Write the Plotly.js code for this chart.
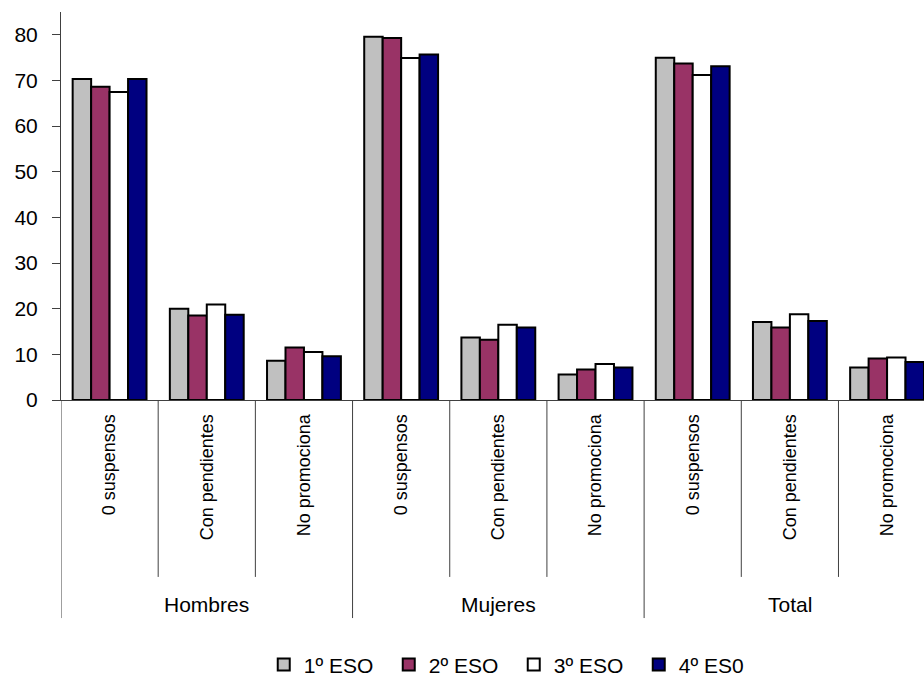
<!DOCTYPE html>
<html>
<head>
<meta charset="utf-8">
<script src="https://cdn.plot.ly/plotly-3.0.1.min.js"></script>
<style>html,body{margin:0;padding:0;background:#fff;}#chart{width:924px;height:686px;}</style>
</head>
<body>
<div id="chart"></div>
<script>
const groups = ["Hombres", "Mujeres", "Total"];
const categories = ["0 suspensos", "Con pendientes", "No promociona"];
const seriesNames = ["1º ESO", "2º ESO", "3º ESO", "4º ES0"];
const colors = ["#C0C0C0", "#993366", "#FFFFFF", "#000080"];

// values per series, ordered Hombres(0 susp, Con pend, No prom), Mujeres(...), Total(...)
const eso1 = [70.3, 20.0, 8.6, 79.6, 13.7, 5.6, 75.0, 17.1, 7.1];
const eso2 = [68.6, 18.5, 11.5, 79.3, 13.2, 6.7, 73.7, 15.9, 9.1];
const eso3 = [67.5, 20.9, 10.5, 74.9, 16.5, 7.9, 71.2, 18.8, 9.3];
const eso4 = [70.3, 18.7, 9.6, 75.7, 15.9, 7.1, 73.1, 17.3, 8.3];
const seriesValues = [eso1, eso2, eso3, eso4];

const xIdx = [];
const tickText = [];
groups.forEach((g, gi) => categories.forEach((c, ci) => {
  xIdx.push(gi * categories.length + ci);
  tickText.push(c);
}));

const traces = seriesNames.map((n, i) => ({
  type: 'bar',
  name: n,
  x: xIdx,
  y: seriesValues[i],
  marker: {color: colors[i], line: {color: '#000000', width: 2}},
  hoverinfo: 'x+y+name'
}));

const shapes = [];
const annotations = [];
const nC = categories.length;
for (let k = 0; k < xIdx.length; k++) {
  const isGroup = k % nC === 0;
  shapes.push({
    type: 'line', xref: 'x', yref: 'paper',
    x0: k - 0.5, x1: k - 0.5, y0: 0, y1: isGroup ? -0.562 : -0.456,
    line: {color: '#404040', width: 1}
  });
}
groups.forEach((g, gi) => {
  annotations.push({
    text: g, xref: 'x', yref: 'paper', x: gi * nC + (nC - 1) / 2, y: -0.526,
    showarrow: false, font: {family: 'Liberation Sans, Arial', size: 21, color: '#000'},
    xanchor: 'center', yanchor: 'middle'
  });
});

const layout = {
  width: 924, height: 686,
  margin: {l: 61, r: 0, t: 12, b: 286},
  paper_bgcolor: '#ffffff', plot_bgcolor: '#ffffff',
  font: {family: 'Liberation Sans, Arial', size: 17, color: '#000'},
  barmode: 'group', bargap: 0.24, bargroupgap: 0,
  showlegend: true,
  legend: {
    orientation: 'h', xref: 'container', yref: 'container',
    x: 0.556, y: 0.031, xanchor: 'center', yanchor: 'middle',
    font: {size: 21}, itemwidth: 30, traceorder: 'normal',
    entrywidth: 80, entrywidthmode: 'pixels'
  },
  xaxis: {
    range: [-0.5, 8.38], tickvals: xIdx, ticktext: tickText, tickangle: -90,
    showgrid: false, zeroline: false, showline: true, linecolor: '#404040', linewidth: 1,
    ticks: '', ticklabelstandoff: 6, tickfont: {size: 18}, fixedrange: true
  },
  yaxis: {
    range: [0, 85], tickvals: [0, 10, 20, 30, 40, 50, 60, 70, 80],
    showgrid: false, zeroline: false, showline: true, linecolor: '#404040', linewidth: 1,
    ticks: 'outside', ticklen: 8, tickcolor: '#404040', tickfont: {size: 21},
    ticklabelstandoff: 10, fixedrange: true
  },
  shapes: shapes,
  annotations: annotations
};

Plotly.newPlot('chart', traces, layout, {displayModeBar: false, staticPlot: true});
</script>
</body>
</html>
